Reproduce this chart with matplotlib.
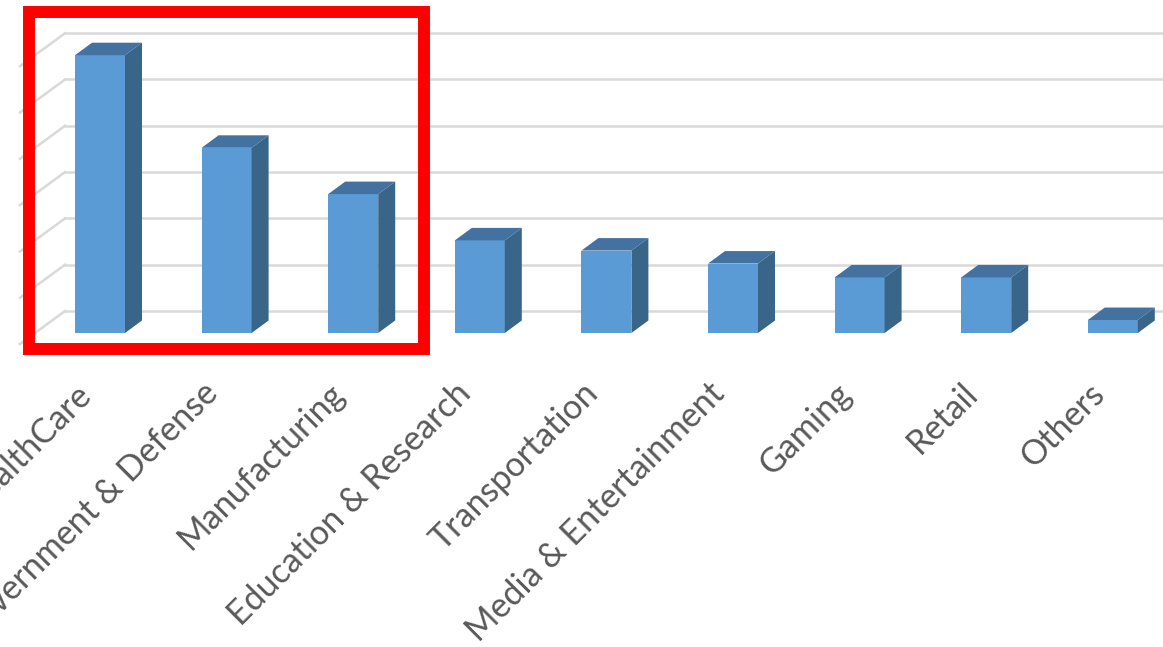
import matplotlib
matplotlib.use('Agg')
import matplotlib.pyplot as plt
from matplotlib.patches import Polygon, Rectangle

categories = ['HealthCare', 'Government & Defense', 'Manufacturing',
              'Education & Research', 'Transportation', 'Media & Entertainment',
              'Gaming', 'Retail', 'Others']
values = [30, 20, 15, 10, 8.9, 7.5, 6, 6, 1.4]
grid_values = [0, 5, 10, 15, 20, 25, 30]

W, H = 1163, 647
# pixel layout of the (cropped) excel chart
PX_X = 126.6     # pixels between categories
PX_Y = 9.26      # pixels per value unit
X0, Y0 = 100, 333  # pixel position of first bar centre / front base

fig = plt.figure(figsize=(W / 100, H / 100), dpi=100)
ax = fig.add_axes([0, 0, 1, 1])
ax.set_xlim(-X0 / PX_X, (W - X0) / PX_X)
ax.set_ylim(-(H - Y0) / PX_Y, Y0 / PX_Y)
ax.axis('off')


def dx(p):
    return p / PX_X


def dy(p):
    return p / PX_Y


def xpix(p):
    return (p - X0) / PX_X


# back wall + side wall gridlines
back_up = dy(22)
for v in grid_values:
    yb = v + back_up
    ax.plot([xpix(65), ax.get_xlim()[1]], [yb, yb], color='#d9d9d9', lw=1.8, zorder=1)
    ax.plot([xpix(20), xpix(65)], [yb - dy(33), yb], color='#d9d9d9', lw=1.8, zorder=1)

# 3d-ish bars
bw = dx(50)
ddx, ddy = dx(17), dy(12.5)
x = list(range(len(categories)))
ax.bar(x, values, width=bw, color='#5b9bd5', zorder=3)
for i, v in zip(x, values):
    x1 = i - bw / 2
    x2 = i + bw / 2
    top = Polygon([(x1, v), (x2, v), (x2 + ddx, v + ddy), (x1 + ddx, v + ddy)],
                  closed=True, facecolor='#4472a0', edgecolor='none', zorder=3)
    side = Polygon([(x2, 0), (x2, v), (x2 + ddx, v + ddy), (x2 + ddx, ddy)],
                   closed=True, facecolor='#396589', edgecolor='none', zorder=3)
    ax.add_patch(top)
    ax.add_patch(side)

# category labels
for i, c in zip(x, categories):
    ax.text(i - dx(25), -dy(44), c, rotation=45, ha='right', va='top',
            rotation_mode='anchor', fontsize=24.5, color='#595959',
            family=['Lato', 'DejaVu Sans'])

# red highlight box
ax.add_patch(Rectangle((29 / W, 1 - 349 / H), (424 - 29) / W, (349 - 12) / H,
                       transform=ax.transAxes, fill=False, edgecolor='#ff0000',
                       lw=8.6, zorder=5, joinstyle='miter'))

fig.savefig('out.png', dpi=100)
